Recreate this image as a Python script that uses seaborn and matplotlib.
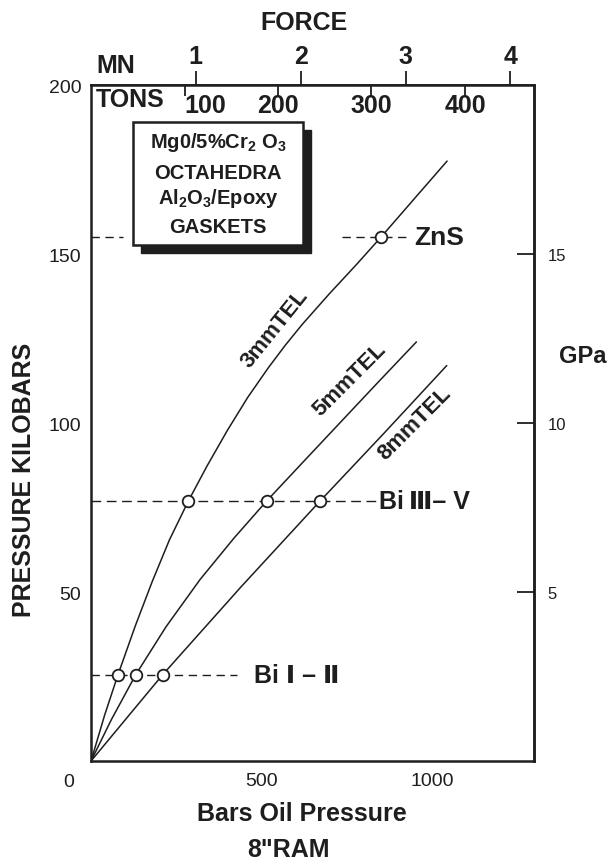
import seaborn as sns
import matplotlib.pyplot as plt
import matplotlib.patches as mpatches
import numpy as np

# calibration curves: oil pressure (bars) vs cell pressure (kbar)
bars_3mm = [0, 40, 79, 130, 180, 230, 286, 340, 400, 460, 520, 570, 620, 700, 780, 851, 950, 1045]
kbar_3mm = [0, 13.6, 25.5, 40, 53.2, 65.4, 77, 87.2, 97.8, 107.6, 116.3, 123, 129.2, 138.3, 147, 155, 166.5, 177.5]
bars_5mm = [0, 60, 131, 220, 320, 420, 516, 620, 730, 840, 955]
kbar_5mm = [0, 12.3, 25.5, 39.7, 53.7, 66, 77, 88.2, 100, 111.8, 124]
bars_8mm = [0, 210, 440, 673, 860, 1044]
kbar_8mm = [0, 25.5, 51.5, 77, 97, 117]

# fixed points
bi12_kbar = 25.5
bi12_bars = [79, 131, 210]
bi35_kbar = 77
bi35_bars = [286, 516, 673]
zns_kbar = 155
zns_bars = [851]

# dashed reference line extents (bars)
bi12_line = [0, 428]
bi35_line = [0, 835]
zns_line_left = [0, 95]
zns_line_right = [736, 935]

yticks = [50, 100, 150, 200]
gpa_ticks = [5, 10, 15]
mn_ticks = [1, 2, 3, 4]
ton_ticks = [100, 200, 300, 400]

MN_PER_BAR = 0.00325
TON_PER_BAR = 0.3645

sns.set_theme(style='white')
plt.rcParams['font.family'] = ['Liberation Sans', 'DejaVu Sans']
plt.rcParams['font.weight'] = 'bold'
plt.rcParams['axes.labelweight'] = 'bold'
plt.rcParams['mathtext.fontset'] = 'custom'
plt.rcParams['mathtext.rm'] = 'Liberation Sans:bold'
plt.rcParams['mathtext.it'] = 'Liberation Sans:bold'
plt.rcParams['mathtext.bf'] = 'Liberation Sans:bold'
ink = '#1e1e1e'
plt.rcParams['text.color'] = ink
plt.rcParams['axes.edgecolor'] = ink
plt.rcParams['axes.labelcolor'] = ink
plt.rcParams['xtick.color'] = ink
plt.rcParams['ytick.color'] = ink

fig = plt.figure(figsize=(6.13, 8.62), dpi=100)
ax = fig.add_axes([0.1485, 0.116, 0.7226, 0.7842])

for b, k in [(bars_3mm, kbar_3mm), (bars_5mm, kbar_5mm), (bars_8mm, kbar_8mm)]:
    sns.lineplot(x=b, y=k, ax=ax, color=ink, lw=1.1, sort=False, estimator=None)

ax.plot(bi12_line, [bi12_kbar] * 2, ls=(0, (6, 4)), color=ink, lw=1.0)
ax.plot(bi35_line, [bi35_kbar] * 2, ls=(0, (7, 4)), color=ink, lw=1.0)
ax.plot(zns_line_left, [zns_kbar] * 2, ls=(0, (6, 4)), color=ink, lw=1.0)
ax.plot(zns_line_right, [zns_kbar] * 2, ls=(0, (6, 4)), color=ink, lw=1.0)

pts_x = bi12_bars + bi35_bars + zns_bars
pts_y = [bi12_kbar] * 3 + [bi35_kbar] * 3 + [zns_kbar]
sns.scatterplot(x=pts_x, y=pts_y, ax=ax, s=70, facecolor='white',
                edgecolor=ink, linewidth=1.3, zorder=5)

ax.set_xlim(0, 1300)
ax.set_ylim(0, 200)

for s in ax.spines.values():
    s.set_linewidth(1.8)

ax.set_xticks([500, 1000])
ax.set_xticks(range(100, 1300, 100), minor=True)
ax.tick_params(axis='x', which='major', direction='in', length=10, width=1.3,
               labelsize=14, pad=8)
ax.tick_params(axis='x', which='minor', direction='in', length=6, width=1.3)
ax.set_yticks(yticks)
ax.tick_params(axis='y', direction='in', length=12, width=1.3, labelsize=14, pad=7)
for lab in ax.get_xticklabels() + ax.get_yticklabels():
    lab.set_fontweight('normal')
ax.text(-0.05, -0.018, '0', transform=ax.transAxes, fontsize=14,
        fontweight='normal', ha='center', va='top')

gpa = ax.secondary_yaxis('right', functions=(lambda k: k / 10, lambda g: g * 10))
gpa.set_yticks(gpa_ticks)
gpa.tick_params(direction='in', length=12, width=1.3, labelsize=12, pad=10)
gpa.spines['right'].set_linewidth(1.8)
for lab in gpa.get_yticklabels():
    lab.set_fontweight('normal')

mn = ax.secondary_xaxis('top', functions=(lambda b: np.asarray(b) * MN_PER_BAR,
                                          lambda m: np.asarray(m) / MN_PER_BAR))
mn.set_xticks(mn_ticks)
mn.tick_params(direction='out', length=10, width=1.3, labelsize=18, pad=2)

tons = ax.secondary_xaxis('top', functions=(lambda b: np.asarray(b) * TON_PER_BAR,
                                            lambda t: np.asarray(t) / TON_PER_BAR))
tons.set_xticks(ton_ticks)
tons.tick_params(direction='in', length=8, width=1.3, labelsize=18, pad=-23)
tons.spines['top'].set_visible(False)
tons.get_xticklabels()[0].set_ha('left')

ax.text(0.012, 1.012, 'MN', transform=ax.transAxes, fontsize=18, ha='left', va='bottom')
ax.text(0.01, 0.979, 'TONS', transform=ax.transAxes, fontsize=18, ha='left', va='center')
ax.text(0.48, 1.093, 'FORCE', transform=ax.transAxes, fontsize=18, ha='center', va='center')

ax.set_ylabel('PRESSURE KILOBARS', fontsize=18, fontweight='bold')
ax.yaxis.set_label_coords(-0.125, 0.417)
ax.text(1.11, 0.6, 'GPa', transform=ax.transAxes, fontsize=17, ha='center', va='center')
fig.text(0.493, 0.056, 'Bars Oil Pressure', fontsize=18, ha='center', va='center')
fig.text(0.47, 0.014, '8"RAM', fontsize=18, ha='center', va='center')

# curve labels
ax.text(540, 128, '3mmTEL', fontsize=16, rotation=51, ha='center', va='center')
ax.text(760, 113, '5mmTEL', fontsize=16, rotation=45, ha='center', va='center')
ax.text(950, 100, '8mmTEL', fontsize=16, rotation=45, ha='center', va='center')

ax.text(950, zns_kbar, 'ZnS', fontsize=19, ha='left', va='center')
ax.text(845, bi35_kbar, 'Bi\u2009\u2162\u2013 V', fontsize=18, ha='left', va='center')
ax.text(478, bi12_kbar, 'Bi \u2160 \u2013 \u2161', fontsize=18, ha='left', va='center')

# legend box with drop shadow
bx0, by0, bw, bh = 0.095, 0.763, 0.384, 0.182
ax.add_patch(mpatches.Rectangle((bx0 + 0.018, by0 - 0.012), bw, bh, transform=ax.transAxes,
                                facecolor=ink, edgecolor=ink, zorder=6))
ax.add_patch(mpatches.Rectangle((bx0, by0), bw, bh, transform=ax.transAxes,
                                facecolor='white', edgecolor=ink, lw=1.8, zorder=7))
box_lines = ['Mg0/5%Cr$_2$ O$_3$', 'OCTAHEDRA', 'Al$_2$O$_3$/Epoxy', 'GASKETS']
box_y = [0.917, 0.871, 0.833, 0.790]
for t, y in zip(box_lines, box_y):
    ax.text(0.287, y, t, transform=ax.transAxes, fontsize=14.5, ha='center',
            va='center', zorder=8)

fig.savefig('out.png', dpi=100, facecolor='white')
